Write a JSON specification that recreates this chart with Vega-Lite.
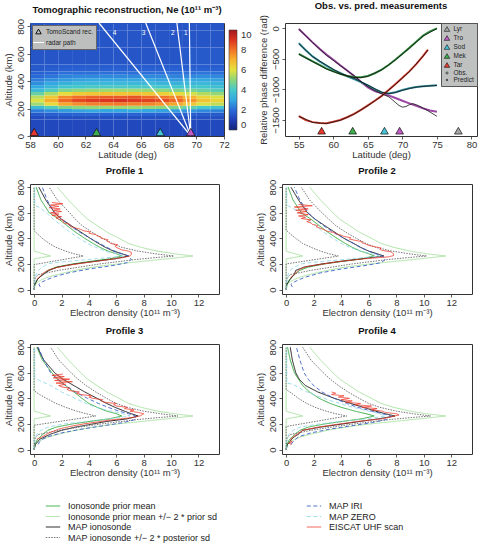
{
"$schema":"https://vega.github.io/schema/vega-lite/v6.json",
"background":"white",
"padding":{"left":2,"top":0,"right":2,"bottom":0},
"config":{
 "font":"Liberation Sans",
 "view":{"stroke":"#333","strokeWidth":1},
 "axis":{"domain":false,"grid":false,"tickSize":3,"tickColor":"#333","tickWidth":0.8,"labelFontSize":9.5,"labelColor":"#333","labelPadding":0,"labelFlush":false,"labelOverlap":false,"titleFontSize":9.5,"titleFontWeight":"normal","titleColor":"#333","titlePadding":1},
 "axisY":{"labelAngle":-90,"labelAlign":"center","labelBaseline":"bottom","labelPadding":2,"titlePadding":2},
 "title":{"fontSize":9.5,"fontWeight":"bold","offset":0,"frame":"group","color":"#111"},
 "legend":{"labelColor":"#333"}
},
"datasets":{
 "hmbg":[
  {"la":58,"h":0,"n":1.2},{"la":58,"h":525,"n":1.5},{"la":58,"h":650,"n":1.5},{"la":58,"h":775,"n":1.5},
  {"la":59,"h":0,"n":1.2},{"la":59,"h":525,"n":1.5},{"la":59,"h":650,"n":1.5},{"la":59,"h":775,"n":1.5},
  {"la":60,"h":0,"n":1.2},{"la":60,"h":525,"n":1.5},{"la":60,"h":650,"n":1.5},{"la":60,"h":775,"n":1.5},
  {"la":61,"h":0,"n":1.2},{"la":61,"h":525,"n":1.5},{"la":61,"h":650,"n":1.5},{"la":61,"h":775,"n":1.5},
  {"la":62,"h":0,"n":1.2},{"la":62,"h":525,"n":1.5},{"la":62,"h":650,"n":1.5},{"la":62,"h":775,"n":1.5},
  {"la":63,"h":0,"n":1.2},{"la":63,"h":525,"n":1.5},{"la":63,"h":650,"n":1.5},{"la":63,"h":775,"n":1.5},
  {"la":64,"h":0,"n":1.2},{"la":64,"h":525,"n":1.5},{"la":64,"h":650,"n":1.5},{"la":64,"h":775,"n":1.5},
  {"la":65,"h":0,"n":1.2},{"la":65,"h":525,"n":1.5},{"la":65,"h":650,"n":1.5},{"la":65,"h":775,"n":1.5},
  {"la":66,"h":0,"n":1.2},{"la":66,"h":525,"n":1.5},{"la":66,"h":650,"n":1.5},{"la":66,"h":775,"n":1.5},
  {"la":67,"h":0,"n":1.2},{"la":67,"h":525,"n":1.5},{"la":67,"h":650,"n":1.5},{"la":67,"h":775,"n":1.5},
  {"la":68,"h":0,"n":1.2},{"la":68,"h":525,"n":1.5},{"la":68,"h":650,"n":1.5},{"la":68,"h":775,"n":1.5},
  {"la":69,"h":0,"n":1.2},{"la":69,"h":525,"n":1.6},{"la":69,"h":650,"n":1.5},{"la":69,"h":775,"n":1.5},
  {"la":70,"h":0,"n":1.2},{"la":70,"h":525,"n":1.6},{"la":70,"h":650,"n":1.5},{"la":70,"h":775,"n":1.5},
  {"la":71,"h":0,"n":1.2},{"la":71,"h":525,"n":1.6},{"la":71,"h":650,"n":1.5},{"la":71,"h":775,"n":1.5}
 ],
 "hm":[
  {"la":58,"h":125,"n":1.3},{"la":58,"h":150,"n":1.6},{"la":58,"h":175,"n":2.3},{"la":58,"h":200,"n":3.6},{"la":58,"h":225,"n":5.2},{"la":58,"h":250,"n":5.9},{"la":58,"h":275,"n":5.5},{"la":58,"h":300,"n":4.5},{"la":58,"h":325,"n":3.6},{"la":58,"h":350,"n":3.0},{"la":58,"h":375,"n":2.6},{"la":58,"h":400,"n":2.3},{"la":58,"h":425,"n":2.0},{"la":58,"h":450,"n":1.8},{"la":58,"h":475,"n":1.6},{"la":58,"h":500,"n":1.6},
  {"la":59,"h":125,"n":1.4},{"la":59,"h":150,"n":1.7},{"la":59,"h":175,"n":2.6},{"la":59,"h":200,"n":4.2},{"la":59,"h":225,"n":6.2},{"la":59,"h":250,"n":7.1},{"la":59,"h":275,"n":6.6},{"la":59,"h":300,"n":5.4},{"la":59,"h":325,"n":4.2},{"la":59,"h":350,"n":3.4},{"la":59,"h":375,"n":3.0},{"la":59,"h":400,"n":2.6},{"la":59,"h":425,"n":2.2},{"la":59,"h":450,"n":1.9},{"la":59,"h":475,"n":1.7},{"la":59,"h":500,"n":1.6},
  {"la":60,"h":125,"n":1.4},{"la":60,"h":150,"n":1.8},{"la":60,"h":175,"n":2.8},{"la":60,"h":200,"n":4.8},{"la":60,"h":225,"n":7.2},{"la":60,"h":250,"n":8.2},{"la":60,"h":275,"n":7.7},{"la":60,"h":300,"n":6.1},{"la":60,"h":325,"n":4.8},{"la":60,"h":350,"n":3.9},{"la":60,"h":375,"n":3.3},{"la":60,"h":400,"n":2.8},{"la":60,"h":425,"n":2.4},{"la":60,"h":450,"n":2.1},{"la":60,"h":475,"n":1.8},{"la":60,"h":500,"n":1.7},
  {"la":61,"h":125,"n":1.4},{"la":61,"h":150,"n":1.8},{"la":61,"h":175,"n":2.9},{"la":61,"h":200,"n":5.0},{"la":61,"h":225,"n":7.6},{"la":61,"h":250,"n":8.7},{"la":61,"h":275,"n":8.1},{"la":61,"h":300,"n":6.5},{"la":61,"h":325,"n":5.0},{"la":61,"h":350,"n":4.0},{"la":61,"h":375,"n":3.5},{"la":61,"h":400,"n":2.9},{"la":61,"h":425,"n":2.5},{"la":61,"h":450,"n":2.1},{"la":61,"h":475,"n":1.8},{"la":61,"h":500,"n":1.7},
  {"la":62,"h":125,"n":1.4},{"la":62,"h":150,"n":1.8},{"la":62,"h":175,"n":3.0},{"la":62,"h":200,"n":5.1},{"la":62,"h":225,"n":7.8},{"la":62,"h":250,"n":8.9},{"la":62,"h":275,"n":8.3},{"la":62,"h":300,"n":6.6},{"la":62,"h":325,"n":5.1},{"la":62,"h":350,"n":4.1},{"la":62,"h":375,"n":3.5},{"la":62,"h":400,"n":3.0},{"la":62,"h":425,"n":2.5},{"la":62,"h":450,"n":2.1},{"la":62,"h":475,"n":1.8},{"la":62,"h":500,"n":1.7},
  {"la":63,"h":125,"n":1.4},{"la":63,"h":150,"n":1.8},{"la":63,"h":175,"n":3.0},{"la":63,"h":200,"n":5.2},{"la":63,"h":225,"n":7.8},{"la":63,"h":250,"n":9.0},{"la":63,"h":275,"n":8.4},{"la":63,"h":300,"n":6.7},{"la":63,"h":325,"n":5.2},{"la":63,"h":350,"n":4.1},{"la":63,"h":375,"n":3.5},{"la":63,"h":400,"n":3.0},{"la":63,"h":425,"n":2.5},{"la":63,"h":450,"n":2.1},{"la":63,"h":475,"n":1.8},{"la":63,"h":500,"n":1.7},
  {"la":64,"h":125,"n":1.4},{"la":64,"h":150,"n":1.8},{"la":64,"h":175,"n":3.0},{"la":64,"h":200,"n":5.2},{"la":64,"h":225,"n":7.9},{"la":64,"h":250,"n":9.1},{"la":64,"h":275,"n":8.4},{"la":64,"h":300,"n":6.7},{"la":64,"h":325,"n":5.2},{"la":64,"h":350,"n":4.1},{"la":64,"h":375,"n":3.5},{"la":64,"h":400,"n":3.0},{"la":64,"h":425,"n":2.5},{"la":64,"h":450,"n":2.1},{"la":64,"h":475,"n":1.8},{"la":64,"h":500,"n":1.7},
  {"la":65,"h":125,"n":1.4},{"la":65,"h":150,"n":1.8},{"la":65,"h":175,"n":3.0},{"la":65,"h":200,"n":5.2},{"la":65,"h":225,"n":7.8},{"la":65,"h":250,"n":8.9},{"la":65,"h":275,"n":8.5},{"la":65,"h":300,"n":6.7},{"la":65,"h":325,"n":5.2},{"la":65,"h":350,"n":4.1},{"la":65,"h":375,"n":3.5},{"la":65,"h":400,"n":3.0},{"la":65,"h":425,"n":2.5},{"la":65,"h":450,"n":2.1},{"la":65,"h":475,"n":1.8},{"la":65,"h":500,"n":1.7},
  {"la":66,"h":125,"n":1.4},{"la":66,"h":150,"n":1.8},{"la":66,"h":175,"n":3.0},{"la":66,"h":200,"n":5.1},{"la":66,"h":225,"n":7.7},{"la":66,"h":250,"n":8.8},{"la":66,"h":275,"n":8.2},{"la":66,"h":300,"n":6.6},{"la":66,"h":325,"n":5.1},{"la":66,"h":350,"n":4.1},{"la":66,"h":375,"n":3.5},{"la":66,"h":400,"n":3.0},{"la":66,"h":425,"n":2.5},{"la":66,"h":450,"n":2.1},{"la":66,"h":475,"n":1.8},{"la":66,"h":500,"n":1.7},
  {"la":67,"h":125,"n":1.4},{"la":67,"h":150,"n":1.8},{"la":67,"h":175,"n":2.9},{"la":67,"h":200,"n":5.0},{"la":67,"h":225,"n":7.5},{"la":67,"h":250,"n":8.6},{"la":67,"h":275,"n":8.0},{"la":67,"h":300,"n":6.4},{"la":67,"h":325,"n":5.0},{"la":67,"h":350,"n":4.0},{"la":67,"h":375,"n":3.4},{"la":67,"h":400,"n":2.9},{"la":67,"h":425,"n":2.5},{"la":67,"h":450,"n":2.1},{"la":67,"h":475,"n":1.8},{"la":67,"h":500,"n":1.7},
  {"la":68,"h":125,"n":1.4},{"la":68,"h":150,"n":1.8},{"la":68,"h":175,"n":2.8},{"la":68,"h":200,"n":4.8},{"la":68,"h":225,"n":7.2},{"la":68,"h":250,"n":8.2},{"la":68,"h":275,"n":7.7},{"la":68,"h":300,"n":6.1},{"la":68,"h":325,"n":4.8},{"la":68,"h":350,"n":3.9},{"la":68,"h":375,"n":3.3},{"la":68,"h":400,"n":2.8},{"la":68,"h":425,"n":2.4},{"la":68,"h":450,"n":2.1},{"la":68,"h":475,"n":1.8},{"la":68,"h":500,"n":1.7},
  {"la":69,"h":125,"n":1.4},{"la":69,"h":150,"n":1.7},{"la":69,"h":175,"n":2.7},{"la":69,"h":200,"n":4.4},{"la":69,"h":225,"n":6.6},{"la":69,"h":250,"n":7.5},{"la":69,"h":275,"n":7.0},{"la":69,"h":300,"n":5.8},{"la":69,"h":325,"n":4.7},{"la":69,"h":350,"n":3.9},{"la":69,"h":375,"n":3.4},{"la":69,"h":400,"n":3.0},{"la":69,"h":425,"n":2.5},{"la":69,"h":450,"n":2.1},{"la":69,"h":475,"n":1.8},{"la":69,"h":500,"n":1.7},
  {"la":70,"h":125,"n":1.4},{"la":70,"h":150,"n":1.6},{"la":70,"h":175,"n":2.5},{"la":70,"h":200,"n":4.0},{"la":70,"h":225,"n":5.9},{"la":70,"h":250,"n":6.7},{"la":70,"h":275,"n":6.3},{"la":70,"h":300,"n":5.4},{"la":70,"h":325,"n":4.5},{"la":70,"h":350,"n":3.9},{"la":70,"h":375,"n":3.5},{"la":70,"h":400,"n":3.0},{"la":70,"h":425,"n":2.6},{"la":70,"h":450,"n":2.2},{"la":70,"h":475,"n":1.8},{"la":70,"h":500,"n":1.7},
  {"la":71,"h":125,"n":1.4},{"la":71,"h":150,"n":1.6},{"la":71,"h":175,"n":2.4},{"la":71,"h":200,"n":3.8},{"la":71,"h":225,"n":5.6},{"la":71,"h":250,"n":6.3},{"la":71,"h":275,"n":5.9},{"la":71,"h":300,"n":5.1},{"la":71,"h":325,"n":4.3},{"la":71,"h":350,"n":3.7},{"la":71,"h":375,"n":3.3},{"la":71,"h":400,"n":2.9},{"la":71,"h":425,"n":2.5},{"la":71,"h":450,"n":2.1},{"la":71,"h":475,"n":1.8},{"la":71,"h":500,"n":1.7}
 ],
 "radar":[
  {"r":"1","la":69.6,"h":0},{"r":"1","la":69.5,"h":825},
  {"r":"2","la":69.6,"h":0},{"r":"2","la":68.6,"h":825},
  {"r":"3","la":69.6,"h":0},{"r":"3","la":66.35,"h":825},
  {"r":"4","la":69.6,"h":0},{"r":"4","la":62.98,"h":825}
 ],
 "rlab":[{"t":"4","la":64.1,"h":752},{"t":"3","la":66.2,"h":752},{"t":"2","la":68.3,"h":752},{"t":"1","la":69.25,"h":752}],
 "stnH":[{"s":"Tar","la":58.3,"h":29},{"s":"Mek","la":62.8,"h":29},{"s":"Sod","la":67.4,"h":29},{"s":"Tro","la":69.6,"h":29}],
 "stnP":[{"s":"Tar","la":58.3,"v":-1675},{"s":"Mek","la":62.8,"v":-1675},{"s":"Sod","la":67.4,"v":-1675},{"s":"Tro","la":69.6,"v":-1675},{"s":"Lyr","la":78.1,"v":-1675}],
 "hleg":[{"leg":"TomoScand rec."},{"leg":"radar path"}],
 "ph":[
  {"s":"Tro","la":55,"v":-10},{"s":"Tro","la":56,"v":-120},{"s":"Tro","la":57,"v":-230},{"s":"Tro","la":58,"v":-335},{"s":"Tro","la":59,"v":-430},{"s":"Tro","la":60,"v":-515},{"s":"Tro","la":61,"v":-605},{"s":"Tro","la":62,"v":-690},{"s":"Tro","la":63,"v":-780},{"s":"Tro","la":64,"v":-880},{"s":"Tro","la":65,"v":-965},{"s":"Tro","la":66,"v":-1025},{"s":"Tro","la":67,"v":-1065},{"s":"Tro","la":68,"v":-1098},{"s":"Tro","la":69,"v":-1140},{"s":"Tro","la":70,"v":-1185},{"s":"Tro","la":71,"v":-1228},{"s":"Tro","la":72,"v":-1270},{"s":"Tro","la":73,"v":-1310},{"s":"Tro","la":74,"v":-1345},{"s":"Tro","la":75,"v":-1365},
  {"s":"Sod","la":55,"v":-245},{"s":"Sod","la":56,"v":-360},{"s":"Sod","la":57,"v":-460},{"s":"Sod","la":58,"v":-540},{"s":"Sod","la":59,"v":-610},{"s":"Sod","la":60,"v":-680},{"s":"Sod","la":61,"v":-730},{"s":"Sod","la":62,"v":-785},{"s":"Sod","la":63,"v":-830},{"s":"Sod","la":64,"v":-880},{"s":"Sod","la":65,"v":-935},{"s":"Sod","la":66,"v":-995},{"s":"Sod","la":67,"v":-1050},{"s":"Sod","la":68,"v":-1065},{"s":"Sod","la":69,"v":-1045},{"s":"Sod","la":70,"v":-1010},{"s":"Sod","la":71,"v":-980},{"s":"Sod","la":72,"v":-960},{"s":"Sod","la":73,"v":-948},{"s":"Sod","la":74,"v":-940},{"s":"Sod","la":75,"v":-933},
  {"s":"Mek","la":55,"v":-420},{"s":"Mek","la":56,"v":-480},{"s":"Mek","la":57,"v":-540},{"s":"Mek","la":58,"v":-600},{"s":"Mek","la":59,"v":-660},{"s":"Mek","la":60,"v":-705},{"s":"Mek","la":61,"v":-745},{"s":"Mek","la":62,"v":-780},{"s":"Mek","la":63,"v":-798},{"s":"Mek","la":64,"v":-800},{"s":"Mek","la":65,"v":-780},{"s":"Mek","la":66,"v":-735},{"s":"Mek","la":67,"v":-675},{"s":"Mek","la":68,"v":-600},{"s":"Mek","la":69,"v":-510},{"s":"Mek","la":70,"v":-415},{"s":"Mek","la":71,"v":-320},{"s":"Mek","la":72,"v":-220},{"s":"Mek","la":73,"v":-120},{"s":"Mek","la":74,"v":-50},{"s":"Mek","la":75,"v":0},
  {"s":"Tar","la":55,"v":-1435},{"s":"Tar","la":56,"v":-1500},{"s":"Tar","la":57,"v":-1535},{"s":"Tar","la":58,"v":-1550},{"s":"Tar","la":59,"v":-1555},{"s":"Tar","la":60,"v":-1530},{"s":"Tar","la":61,"v":-1500},{"s":"Tar","la":62,"v":-1455},{"s":"Tar","la":63,"v":-1400},{"s":"Tar","la":64,"v":-1335},{"s":"Tar","la":65,"v":-1260},{"s":"Tar","la":66,"v":-1185},{"s":"Tar","la":67,"v":-1105},{"s":"Tar","la":68,"v":-1010},{"s":"Tar","la":69,"v":-910},{"s":"Tar","la":70,"v":-810},{"s":"Tar","la":71,"v":-705},{"s":"Tar","la":72,"v":-585},{"s":"Tar","la":73,"v":-450},{"s":"Tar","la":73.7,"v":-350}
 ],
 "obs":[
  {"s":"Tro","la":55,"v":-15},{"s":"Tro","la":57,"v":-235},{"s":"Tro","la":59,"v":-440},{"s":"Tro","la":61,"v":-610},{"s":"Tro","la":63,"v":-775},{"s":"Tro","la":64,"v":-870},{"s":"Tro","la":65,"v":-955},{"s":"Tro","la":66,"v":-1020},{"s":"Tro","la":67,"v":-1070},{"s":"Tro","la":68,"v":-1120},{"s":"Tro","la":68.5,"v":-1165},{"s":"Tro","la":69,"v":-1215},{"s":"Tro","la":69.5,"v":-1262},{"s":"Tro","la":70,"v":-1290},{"s":"Tro","la":70.5,"v":-1280},{"s":"Tro","la":71,"v":-1250},{"s":"Tro","la":71.5,"v":-1232},{"s":"Tro","la":72,"v":-1250},{"s":"Tro","la":72.5,"v":-1275},{"s":"Tro","la":73,"v":-1305},{"s":"Tro","la":74,"v":-1370},{"s":"Tro","la":75,"v":-1440},
  {"s":"Sod","la":55,"v":-250},{"s":"Sod","la":57,"v":-465},{"s":"Sod","la":59,"v":-605},{"s":"Sod","la":61,"v":-735},{"s":"Sod","la":63,"v":-820},{"s":"Sod","la":65,"v":-930},{"s":"Sod","la":66,"v":-990},{"s":"Sod","la":67,"v":-1045},{"s":"Sod","la":68,"v":-1070},{"s":"Sod","la":69,"v":-1050},{"s":"Sod","la":70,"v":-1015},{"s":"Sod","la":71,"v":-985},{"s":"Sod","la":72,"v":-962},{"s":"Sod","la":73,"v":-950},{"s":"Sod","la":75,"v":-935},
  {"s":"Mek","la":55,"v":-425},{"s":"Mek","la":57,"v":-545},{"s":"Mek","la":59,"v":-665},{"s":"Mek","la":61,"v":-750},{"s":"Mek","la":63,"v":-805},{"s":"Mek","la":64,"v":-808},{"s":"Mek","la":65,"v":-785},{"s":"Mek","la":67,"v":-680},{"s":"Mek","la":69,"v":-515},{"s":"Mek","la":71,"v":-325},{"s":"Mek","la":73,"v":-125},{"s":"Mek","la":75,"v":-5},
  {"s":"Tar","la":55,"v":-1440},{"s":"Tar","la":57,"v":-1540},{"s":"Tar","la":59,"v":-1560},{"s":"Tar","la":61,"v":-1505},{"s":"Tar","la":63,"v":-1405},{"s":"Tar","la":65,"v":-1265},{"s":"Tar","la":67,"v":-1110},{"s":"Tar","la":69,"v":-915},{"s":"Tar","la":71,"v":-710},{"s":"Tar","la":73,"v":-455},{"s":"Tar","la":73.7,"v":-355}
 ],
 "prior":[
  {"c":"ps","k":"u","x":0,"h":0},{"c":"ps","k":"u","x":0.1,"h":40},{"c":"ps","k":"u","x":0.3,"h":60},{"c":"ps","k":"u","x":0.6,"h":80},{"c":"ps","k":"u","x":1.1,"h":100},{"c":"ps","k":"u","x":1.8,"h":120},{"c":"ps","k":"u","x":3.0,"h":150},{"c":"ps","k":"u","x":4.3,"h":175},{"c":"ps","k":"u","x":5.3,"h":190},{"c":"ps","k":"u","x":6.8,"h":208},{"c":"ps","k":"u","x":8.8,"h":230},{"c":"ps","k":"u","x":10.6,"h":250},{"c":"ps","k":"u","x":11.6,"h":262},{"c":"ps","k":"u","x":10.2,"h":280},{"c":"ps","k":"u","x":9.0,"h":300},{"c":"ps","k":"u","x":7.8,"h":330},{"c":"ps","k":"u","x":6.9,"h":360},{"c":"ps","k":"u","x":6.2,"h":400},{"c":"ps","k":"u","x":5.3,"h":450},{"c":"ps","k":"u","x":4.6,"h":500},{"c":"ps","k":"u","x":3.9,"h":550},{"c":"ps","k":"u","x":3.4,"h":600},{"c":"ps","k":"u","x":2.5,"h":700},{"c":"ps","k":"u","x":1.7,"h":800},
  {"c":"ps","k":"l","x":0,"h":0},{"c":"ps","k":"l","x":0,"h":240},{"c":"ps","k":"l","x":1.2,"h":262},{"c":"ps","k":"l","x":0,"h":300},{"c":"ps","k":"l","x":0,"h":800}
 ],
 "prof":[
  {"p":1,"c":"pm","x":0,"h":0},{"p":1,"c":"pm","x":0.05,"h":40},{"p":1,"c":"pm","x":0.25,"h":80},{"p":1,"c":"pm","x":0.45,"h":100},{"p":1,"c":"pm","x":0.65,"h":120},{"p":1,"c":"pm","x":1.0,"h":150},{"p":1,"c":"pm","x":1.6,"h":175},{"p":1,"c":"pm","x":2.8,"h":200},{"p":1,"c":"pm","x":4.1,"h":220},{"p":1,"c":"pm","x":5.5,"h":240},{"p":1,"c":"pm","x":6.4,"h":262},{"p":1,"c":"pm","x":6.0,"h":280},{"p":1,"c":"pm","x":5.4,"h":300},{"p":1,"c":"pm","x":4.8,"h":330},{"p":1,"c":"pm","x":4.3,"h":360},{"p":1,"c":"pm","x":3.7,"h":400},{"p":1,"c":"pm","x":3.0,"h":450},{"p":1,"c":"pm","x":2.4,"h":500},{"p":1,"c":"pm","x":1.8,"h":550},{"p":1,"c":"pm","x":1.1,"h":600},{"p":1,"c":"pm","x":0.5,"h":700},{"p":1,"c":"pm","x":0.15,"h":800},
  {"p":1,"c":"mi","x":0,"h":0},{"p":1,"c":"mi","x":0.05,"h":40},{"p":1,"c":"mi","x":0.25,"h":80},{"p":1,"c":"mi","x":0.45,"h":100},{"p":1,"c":"mi","x":0.7,"h":120},{"p":1,"c":"mi","x":1.1,"h":150},{"p":1,"c":"mi","x":1.7,"h":175},{"p":1,"c":"mi","x":3.0,"h":200},{"p":1,"c":"mi","x":4.4,"h":220},{"p":1,"c":"mi","x":5.9,"h":240},{"p":1,"c":"mi","x":6.9,"h":262},{"p":1,"c":"mi","x":6.4,"h":280},{"p":1,"c":"mi","x":5.8,"h":300},{"p":1,"c":"mi","x":5.2,"h":330},{"p":1,"c":"mi","x":4.7,"h":360},{"p":1,"c":"mi","x":4.1,"h":400},{"p":1,"c":"mi","x":3.4,"h":450},{"p":1,"c":"mi","x":2.7,"h":500},{"p":1,"c":"mi","x":2.0,"h":550},{"p":1,"c":"mi","x":1.5,"h":600},{"p":1,"c":"mi","x":0.85,"h":700},{"p":1,"c":"mi","x":0.35,"h":800},
  {"p":1,"c":"ms","k":"u","x":0,"h":0},{"p":1,"c":"ms","k":"u","x":0.05,"h":80},{"p":1,"c":"ms","k":"u","x":0.15,"h":100},{"p":1,"c":"ms","k":"u","x":0.3,"h":117},{"p":1,"c":"ms","k":"u","x":1.8,"h":150},{"p":1,"c":"ms","k":"u","x":3.3,"h":175},{"p":1,"c":"ms","k":"u","x":4.8,"h":200},{"p":1,"c":"ms","k":"u","x":7.35,"h":234},{"p":1,"c":"ms","k":"u","x":8.9,"h":250},{"p":1,"c":"ms","k":"u","x":10.2,"h":262},{"p":1,"c":"ms","k":"u","x":8.8,"h":280},{"p":1,"c":"ms","k":"u","x":7.6,"h":300},{"p":1,"c":"ms","k":"u","x":6.4,"h":330},{"p":1,"c":"ms","k":"u","x":5.7,"h":360},{"p":1,"c":"ms","k":"u","x":5.0,"h":400},{"p":1,"c":"ms","k":"u","x":4.2,"h":450},{"p":1,"c":"ms","k":"u","x":3.5,"h":500},{"p":1,"c":"ms","k":"u","x":3.0,"h":550},{"p":1,"c":"ms","k":"u","x":2.6,"h":600},{"p":1,"c":"ms","k":"u","x":1.7,"h":700},{"p":1,"c":"ms","k":"u","x":1.1,"h":800},
  {"p":1,"c":"ms","k":"l","x":0,"h":0},{"p":1,"c":"ms","k":"l","x":0,"h":195},{"p":1,"c":"ms","k":"l","x":3.6,"h":262},{"p":1,"c":"ms","k":"l","x":2.9,"h":280},{"p":1,"c":"ms","k":"l","x":2.3,"h":300},{"p":1,"c":"ms","k":"l","x":1.6,"h":330},{"p":1,"c":"ms","k":"l","x":1.1,"h":360},{"p":1,"c":"ms","k":"l","x":0.6,"h":400},{"p":1,"c":"ms","k":"l","x":0.3,"h":430},{"p":1,"c":"ms","k":"l","x":0,"h":460},{"p":1,"c":"ms","k":"l","x":0,"h":800},
  {"p":1,"c":"iri","x":0.45,"h":20},{"p":1,"c":"iri","x":0.35,"h":40},{"p":1,"c":"iri","x":0.6,"h":60},{"p":1,"c":"iri","x":1.0,"h":80},{"p":1,"c":"iri","x":1.5,"h":100},{"p":1,"c":"iri","x":2.5,"h":130},{"p":1,"c":"iri","x":4.0,"h":160},{"p":1,"c":"iri","x":5.9,"h":190},{"p":1,"c":"iri","x":6.8,"h":210},{"p":1,"c":"iri","x":7.1,"h":235},{"p":1,"c":"iri","x":6.9,"h":262},{"p":1,"c":"iri","x":6.4,"h":280},{"p":1,"c":"iri","x":5.9,"h":300},{"p":1,"c":"iri","x":5.3,"h":330},{"p":1,"c":"iri","x":4.8,"h":360},{"p":1,"c":"iri","x":4.1,"h":400},{"p":1,"c":"iri","x":3.3,"h":450},{"p":1,"c":"iri","x":2.6,"h":500},{"p":1,"c":"iri","x":2.0,"h":550},{"p":1,"c":"iri","x":1.5,"h":600},{"p":1,"c":"iri","x":0.95,"h":700},{"p":1,"c":"iri","x":0.6,"h":800},
  {"p":1,"c":"zero","x":0,"h":0},{"p":1,"c":"zero","x":0.05,"h":80},{"p":1,"c":"zero","x":0.15,"h":120},{"p":1,"c":"zero","x":0.3,"h":150},{"p":1,"c":"zero","x":0.6,"h":175},{"p":1,"c":"zero","x":1.0,"h":200},{"p":1,"c":"zero","x":1.5,"h":210},{"p":1,"c":"zero","x":2.5,"h":220},{"p":1,"c":"zero","x":4.5,"h":240},{"p":1,"c":"zero","x":6.6,"h":262},{"p":1,"c":"zero","x":6.0,"h":280},{"p":1,"c":"zero","x":5.2,"h":300},{"p":1,"c":"zero","x":4.5,"h":330},{"p":1,"c":"zero","x":3.9,"h":360},{"p":1,"c":"zero","x":3.3,"h":400},{"p":1,"c":"zero","x":2.6,"h":450},{"p":1,"c":"zero","x":2.0,"h":500},{"p":1,"c":"zero","x":1.4,"h":550},{"p":1,"c":"zero","x":0.9,"h":600},{"p":1,"c":"zero","x":0.4,"h":640},{"p":1,"c":"zero","x":0.05,"h":660},{"p":1,"c":"zero","x":0.05,"h":800},
  {"p":1,"c":"eis","x":0.2,"h":80},{"p":1,"c":"eis","x":0.4,"h":100},{"p":1,"c":"eis","x":0.7,"h":130},{"p":1,"c":"eis","x":1.0,"h":150},{"p":1,"c":"eis","x":1.6,"h":170},{"p":1,"c":"eis","x":2.5,"h":190},{"p":1,"c":"eis","x":3.8,"h":210},{"p":1,"c":"eis","x":5.2,"h":230},{"p":1,"c":"eis","x":6.5,"h":250},{"p":1,"c":"eis","x":7.0,"h":262},{"p":1,"c":"eis","x":7.1,"h":275},{"p":1,"c":"eis","x":7.1,"h":290},{"p":1,"c":"eis","x":6.9,"h":300},{"p":1,"c":"eis","x":6.4,"h":310},{"p":1,"c":"eis","x":6.2,"h":320},{"p":1,"c":"eis","x":6.0,"h":330},{"p":1,"c":"eis","x":5.9,"h":340},{"p":1,"c":"eis","x":6.1,"h":350},{"p":1,"c":"eis","x":5.6,"h":360},{"p":1,"c":"eis","x":5.5,"h":370},{"p":1,"c":"eis","x":5.3,"h":380},{"p":1,"c":"eis","x":5.4,"h":390},{"p":1,"c":"eis","x":4.9,"h":400},{"p":1,"c":"eis","x":4.9,"h":410},{"p":1,"c":"eis","x":4.6,"h":420},{"p":1,"c":"eis","x":4.5,"h":430},{"p":1,"c":"eis","x":4.0,"h":440},{"p":1,"c":"eis","x":4.1,"h":450},{"p":1,"c":"eis","x":3.6,"h":460},{"p":1,"c":"eis","x":3.4,"h":470},{"p":1,"c":"eis","x":3.1,"h":480},{"p":1,"c":"eis","x":2.7,"h":490},{"p":1,"c":"eis","x":2.6,"h":500},{"p":1,"c":"eis","x":2.6,"h":510},{"p":1,"c":"eis","x":2.2,"h":520},{"p":1,"c":"eis","x":2.1,"h":530},{"p":1,"c":"eis","x":2.2,"h":540},{"p":1,"c":"eis","x":1.8,"h":550},{"p":1,"c":"eis","x":1.6,"h":560},{"p":1,"c":"eis","x":2.0,"h":570},{"p":1,"c":"eis","x":1.3,"h":580},{"p":1,"c":"eis","x":1.8,"h":590},{"p":1,"c":"eis","x":1.2,"h":600},{"p":1,"c":"eis","x":2.0,"h":610},{"p":1,"c":"eis","x":1.4,"h":620},{"p":1,"c":"eis","x":1.9,"h":630},{"p":1,"c":"eis","x":1.1,"h":640},{"p":1,"c":"eis","x":1.8,"h":650},{"p":1,"c":"eis","x":1.2,"h":660},{"p":1,"c":"eis","x":2.1,"h":670},{"p":1,"c":"eis","x":1.3,"h":680},

  {"p":2,"c":"pm","x":0,"h":0},{"p":2,"c":"pm","x":0.05,"h":40},{"p":2,"c":"pm","x":0.25,"h":80},{"p":2,"c":"pm","x":0.45,"h":100},{"p":2,"c":"pm","x":0.65,"h":120},{"p":2,"c":"pm","x":1.0,"h":150},{"p":2,"c":"pm","x":1.6,"h":175},{"p":2,"c":"pm","x":2.8,"h":200},{"p":2,"c":"pm","x":4.1,"h":220},{"p":2,"c":"pm","x":5.5,"h":240},{"p":2,"c":"pm","x":6.4,"h":262},{"p":2,"c":"pm","x":6.0,"h":280},{"p":2,"c":"pm","x":5.4,"h":300},{"p":2,"c":"pm","x":4.8,"h":330},{"p":2,"c":"pm","x":4.3,"h":360},{"p":2,"c":"pm","x":3.7,"h":400},{"p":2,"c":"pm","x":3.0,"h":450},{"p":2,"c":"pm","x":2.4,"h":500},{"p":2,"c":"pm","x":1.8,"h":550},{"p":2,"c":"pm","x":1.1,"h":600},{"p":2,"c":"pm","x":0.5,"h":700},{"p":2,"c":"pm","x":0.15,"h":800},
  {"p":2,"c":"mi","x":0,"h":0},{"p":2,"c":"mi","x":0.05,"h":40},{"p":2,"c":"mi","x":0.3,"h":80},{"p":2,"c":"mi","x":0.45,"h":100},{"p":2,"c":"mi","x":0.6,"h":120},{"p":2,"c":"mi","x":0.7,"h":150},{"p":2,"c":"mi","x":1.3,"h":175},{"p":2,"c":"mi","x":2.6,"h":200},{"p":2,"c":"mi","x":3.9,"h":220},{"p":2,"c":"mi","x":5.5,"h":240},{"p":2,"c":"mi","x":7.1,"h":262},{"p":2,"c":"mi","x":6.6,"h":280},{"p":2,"c":"mi","x":6.0,"h":300},{"p":2,"c":"mi","x":5.4,"h":330},{"p":2,"c":"mi","x":4.9,"h":360},{"p":2,"c":"mi","x":4.2,"h":400},{"p":2,"c":"mi","x":3.5,"h":450},{"p":2,"c":"mi","x":2.8,"h":500},{"p":2,"c":"mi","x":2.1,"h":550},{"p":2,"c":"mi","x":1.55,"h":600},{"p":2,"c":"mi","x":0.9,"h":700},{"p":2,"c":"mi","x":0.35,"h":800},
  {"p":2,"c":"ms","k":"u","x":0,"h":0},{"p":2,"c":"ms","k":"u","x":0.05,"h":80},{"p":2,"c":"ms","k":"u","x":0.15,"h":100},{"p":2,"c":"ms","k":"u","x":0.3,"h":117},{"p":2,"c":"ms","k":"u","x":1.8,"h":150},{"p":2,"c":"ms","k":"u","x":3.3,"h":175},{"p":2,"c":"ms","k":"u","x":4.8,"h":200},{"p":2,"c":"ms","k":"u","x":7.35,"h":234},{"p":2,"c":"ms","k":"u","x":8.9,"h":250},{"p":2,"c":"ms","k":"u","x":10.2,"h":262},{"p":2,"c":"ms","k":"u","x":8.9,"h":280},{"p":2,"c":"ms","k":"u","x":7.7,"h":300},{"p":2,"c":"ms","k":"u","x":6.5,"h":330},{"p":2,"c":"ms","k":"u","x":5.8,"h":360},{"p":2,"c":"ms","k":"u","x":5.1,"h":400},{"p":2,"c":"ms","k":"u","x":4.3,"h":450},{"p":2,"c":"ms","k":"u","x":3.6,"h":500},{"p":2,"c":"ms","k":"u","x":3.1,"h":550},{"p":2,"c":"ms","k":"u","x":2.6,"h":600},{"p":2,"c":"ms","k":"u","x":1.7,"h":700},{"p":2,"c":"ms","k":"u","x":1.1,"h":800},
  {"p":2,"c":"ms","k":"l","x":0,"h":0},{"p":2,"c":"ms","k":"l","x":0,"h":200},{"p":2,"c":"ms","k":"l","x":3.8,"h":262},{"p":2,"c":"ms","k":"l","x":3.1,"h":280},{"p":2,"c":"ms","k":"l","x":2.5,"h":300},{"p":2,"c":"ms","k":"l","x":1.8,"h":330},{"p":2,"c":"ms","k":"l","x":1.2,"h":360},{"p":2,"c":"ms","k":"l","x":0.7,"h":400},{"p":2,"c":"ms","k":"l","x":0.35,"h":430},{"p":2,"c":"ms","k":"l","x":0,"h":465},{"p":2,"c":"ms","k":"l","x":0,"h":800},
  {"p":2,"c":"iri","x":0.45,"h":20},{"p":2,"c":"iri","x":0.35,"h":40},{"p":2,"c":"iri","x":0.6,"h":60},{"p":2,"c":"iri","x":1.0,"h":80},{"p":2,"c":"iri","x":1.5,"h":100},{"p":2,"c":"iri","x":2.5,"h":130},{"p":2,"c":"iri","x":4.0,"h":160},{"p":2,"c":"iri","x":5.9,"h":190},{"p":2,"c":"iri","x":6.9,"h":210},{"p":2,"c":"iri","x":7.2,"h":235},{"p":2,"c":"iri","x":7.0,"h":262},{"p":2,"c":"iri","x":6.5,"h":280},{"p":2,"c":"iri","x":6.0,"h":300},{"p":2,"c":"iri","x":5.4,"h":330},{"p":2,"c":"iri","x":4.9,"h":360},{"p":2,"c":"iri","x":4.2,"h":400},{"p":2,"c":"iri","x":3.4,"h":450},{"p":2,"c":"iri","x":2.7,"h":500},{"p":2,"c":"iri","x":2.1,"h":550},{"p":2,"c":"iri","x":1.6,"h":600},{"p":2,"c":"iri","x":1.0,"h":700},{"p":2,"c":"iri","x":0.6,"h":800},
  {"p":2,"c":"zero","x":0,"h":0},{"p":2,"c":"zero","x":0.05,"h":80},{"p":2,"c":"zero","x":0.15,"h":120},{"p":2,"c":"zero","x":0.3,"h":150},{"p":2,"c":"zero","x":0.6,"h":175},{"p":2,"c":"zero","x":1.1,"h":200},{"p":2,"c":"zero","x":1.7,"h":210},{"p":2,"c":"zero","x":2.7,"h":220},{"p":2,"c":"zero","x":4.7,"h":240},{"p":2,"c":"zero","x":6.8,"h":262},{"p":2,"c":"zero","x":6.2,"h":280},{"p":2,"c":"zero","x":5.4,"h":300},{"p":2,"c":"zero","x":4.6,"h":330},{"p":2,"c":"zero","x":4.0,"h":360},{"p":2,"c":"zero","x":3.4,"h":400},{"p":2,"c":"zero","x":2.7,"h":450},{"p":2,"c":"zero","x":2.1,"h":500},{"p":2,"c":"zero","x":1.5,"h":550},{"p":2,"c":"zero","x":1.0,"h":600},{"p":2,"c":"zero","x":0.4,"h":640},{"p":2,"c":"zero","x":0.05,"h":660},{"p":2,"c":"zero","x":0.05,"h":800},
  {"p":2,"c":"eis","x":0.3,"h":90},{"p":2,"c":"eis","x":0.5,"h":110},{"p":2,"c":"eis","x":0.8,"h":140},{"p":2,"c":"eis","x":1.0,"h":160},{"p":2,"c":"eis","x":1.5,"h":180},{"p":2,"c":"eis","x":2.7,"h":200},{"p":2,"c":"eis","x":4.0,"h":220},{"p":2,"c":"eis","x":5.6,"h":240},{"p":2,"c":"eis","x":7.4,"h":255},{"p":2,"c":"eis","x":7.8,"h":265},{"p":2,"c":"eis","x":7.8,"h":280},{"p":2,"c":"eis","x":7.6,"h":295},{"p":2,"c":"eis","x":7.0,"h":305},{"p":2,"c":"eis","x":6.8,"h":315},{"p":2,"c":"eis","x":6.9,"h":325},{"p":2,"c":"eis","x":6.4,"h":335},{"p":2,"c":"eis","x":6.0,"h":345},{"p":2,"c":"eis","x":5.8,"h":355},{"p":2,"c":"eis","x":5.5,"h":365},{"p":2,"c":"eis","x":5.5,"h":375},{"p":2,"c":"eis","x":5.0,"h":385},{"p":2,"c":"eis","x":4.6,"h":395},{"p":2,"c":"eis","x":4.7,"h":405},{"p":2,"c":"eis","x":4.2,"h":415},{"p":2,"c":"eis","x":4.0,"h":425},{"p":2,"c":"eis","x":3.6,"h":435},{"p":2,"c":"eis","x":3.5,"h":445},{"p":2,"c":"eis","x":3.0,"h":455},{"p":2,"c":"eis","x":2.8,"h":465},{"p":2,"c":"eis","x":2.6,"h":475},{"p":2,"c":"eis","x":2.2,"h":490},{"p":2,"c":"eis","x":2.3,"h":500},{"p":2,"c":"eis","x":1.9,"h":510},{"p":2,"c":"eis","x":1.8,"h":520},{"p":2,"c":"eis","x":1.5,"h":530},{"p":2,"c":"eis","x":1.8,"h":545},{"p":2,"c":"eis","x":1.1,"h":555},{"p":2,"c":"eis","x":1.4,"h":565},{"p":2,"c":"eis","x":0.9,"h":575},{"p":2,"c":"eis","x":1.6,"h":585},{"p":2,"c":"eis","x":0.8,"h":600},{"p":2,"c":"eis","x":1.5,"h":610},{"p":2,"c":"eis","x":0.7,"h":620},{"p":2,"c":"eis","x":1.6,"h":630},{"p":2,"c":"eis","x":0.6,"h":645},{"p":2,"c":"eis","x":1.9,"h":655},{"p":2,"c":"eis","x":0.9,"h":665},

  {"p":3,"c":"pm","x":0,"h":0},{"p":3,"c":"pm","x":0.05,"h":40},{"p":3,"c":"pm","x":0.25,"h":80},{"p":3,"c":"pm","x":0.45,"h":100},{"p":3,"c":"pm","x":0.65,"h":120},{"p":3,"c":"pm","x":1.0,"h":150},{"p":3,"c":"pm","x":1.6,"h":175},{"p":3,"c":"pm","x":2.8,"h":200},{"p":3,"c":"pm","x":4.1,"h":220},{"p":3,"c":"pm","x":5.5,"h":240},{"p":3,"c":"pm","x":6.4,"h":262},{"p":3,"c":"pm","x":6.0,"h":280},{"p":3,"c":"pm","x":5.3,"h":300},{"p":3,"c":"pm","x":4.6,"h":330},{"p":3,"c":"pm","x":4.0,"h":360},{"p":3,"c":"pm","x":3.5,"h":400},{"p":3,"c":"pm","x":2.9,"h":450},{"p":3,"c":"pm","x":2.3,"h":500},{"p":3,"c":"pm","x":1.7,"h":550},{"p":3,"c":"pm","x":1.3,"h":600},{"p":3,"c":"pm","x":0.6,"h":700},{"p":3,"c":"pm","x":0.2,"h":800},
  {"p":3,"c":"mi","x":0,"h":0},{"p":3,"c":"mi","x":0.1,"h":40},{"p":3,"c":"mi","x":0.4,"h":80},{"p":3,"c":"mi","x":0.8,"h":100},{"p":3,"c":"mi","x":1.2,"h":120},{"p":3,"c":"mi","x":2.0,"h":150},{"p":3,"c":"mi","x":3.0,"h":175},{"p":3,"c":"mi","x":4.3,"h":200},{"p":3,"c":"mi","x":5.3,"h":220},{"p":3,"c":"mi","x":6.8,"h":240},{"p":3,"c":"mi","x":7.6,"h":262},{"p":3,"c":"mi","x":7.1,"h":280},{"p":3,"c":"mi","x":6.6,"h":300},{"p":3,"c":"mi","x":5.9,"h":330},{"p":3,"c":"mi","x":5.3,"h":360},{"p":3,"c":"mi","x":4.6,"h":400},{"p":3,"c":"mi","x":3.7,"h":450},{"p":3,"c":"mi","x":2.9,"h":500},{"p":3,"c":"mi","x":2.1,"h":550},{"p":3,"c":"mi","x":1.5,"h":600},{"p":3,"c":"mi","x":0.7,"h":700},{"p":3,"c":"mi","x":0.25,"h":800},
  {"p":3,"c":"ms","k":"u","x":0,"h":0},{"p":3,"c":"ms","k":"u","x":0.05,"h":80},{"p":3,"c":"ms","k":"u","x":0.15,"h":100},{"p":3,"c":"ms","k":"u","x":0.3,"h":117},{"p":3,"c":"ms","k":"u","x":1.8,"h":150},{"p":3,"c":"ms","k":"u","x":3.3,"h":175},{"p":3,"c":"ms","k":"u","x":4.9,"h":200},{"p":3,"c":"ms","k":"u","x":7.5,"h":234},{"p":3,"c":"ms","k":"u","x":9.1,"h":250},{"p":3,"c":"ms","k":"u","x":10.5,"h":262},{"p":3,"c":"ms","k":"u","x":9.2,"h":280},{"p":3,"c":"ms","k":"u","x":8.0,"h":300},{"p":3,"c":"ms","k":"u","x":6.8,"h":330},{"p":3,"c":"ms","k":"u","x":6.0,"h":360},{"p":3,"c":"ms","k":"u","x":5.3,"h":400},{"p":3,"c":"ms","k":"u","x":4.5,"h":450},{"p":3,"c":"ms","k":"u","x":3.8,"h":500},{"p":3,"c":"ms","k":"u","x":3.2,"h":550},{"p":3,"c":"ms","k":"u","x":2.7,"h":600},{"p":3,"c":"ms","k":"u","x":1.8,"h":700},{"p":3,"c":"ms","k":"u","x":1.2,"h":800},
  {"p":3,"c":"ms","k":"l","x":0,"h":0},{"p":3,"c":"ms","k":"l","x":0,"h":190},{"p":3,"c":"ms","k":"l","x":4.5,"h":262},{"p":3,"c":"ms","k":"l","x":3.8,"h":280},{"p":3,"c":"ms","k":"l","x":3.1,"h":300},{"p":3,"c":"ms","k":"l","x":2.3,"h":330},{"p":3,"c":"ms","k":"l","x":1.6,"h":360},{"p":3,"c":"ms","k":"l","x":0.9,"h":400},{"p":3,"c":"ms","k":"l","x":0.4,"h":430},{"p":3,"c":"ms","k":"l","x":0,"h":460},{"p":3,"c":"ms","k":"l","x":0,"h":800},
  {"p":3,"c":"iri","x":0.3,"h":40},{"p":3,"c":"iri","x":0.4,"h":60},{"p":3,"c":"iri","x":0.6,"h":80},{"p":3,"c":"iri","x":1.0,"h":100},{"p":3,"c":"iri","x":2.0,"h":130},{"p":3,"c":"iri","x":3.5,"h":160},{"p":3,"c":"iri","x":5.3,"h":190},{"p":3,"c":"iri","x":6.5,"h":210},{"p":3,"c":"iri","x":7.4,"h":235},{"p":3,"c":"iri","x":7.4,"h":262},{"p":3,"c":"iri","x":6.9,"h":280},{"p":3,"c":"iri","x":6.2,"h":300},{"p":3,"c":"iri","x":5.4,"h":330},{"p":3,"c":"iri","x":4.7,"h":360},{"p":3,"c":"iri","x":3.9,"h":400},{"p":3,"c":"iri","x":3.0,"h":450},{"p":3,"c":"iri","x":2.3,"h":500},{"p":3,"c":"iri","x":1.7,"h":550},{"p":3,"c":"iri","x":1.2,"h":600},{"p":3,"c":"iri","x":0.7,"h":700},{"p":3,"c":"iri","x":0.3,"h":800},
  {"p":3,"c":"zero","x":0,"h":0},{"p":3,"c":"zero","x":0.05,"h":80},{"p":3,"c":"zero","x":0.2,"h":120},{"p":3,"c":"zero","x":0.5,"h":150},{"p":3,"c":"zero","x":1.0,"h":175},{"p":3,"c":"zero","x":2.2,"h":200},{"p":3,"c":"zero","x":3.8,"h":220},{"p":3,"c":"zero","x":5.5,"h":240},{"p":3,"c":"zero","x":7.0,"h":262},{"p":3,"c":"zero","x":6.5,"h":280},{"p":3,"c":"zero","x":5.6,"h":300},{"p":3,"c":"zero","x":4.5,"h":330},{"p":3,"c":"zero","x":3.8,"h":360},{"p":3,"c":"zero","x":3.0,"h":400},{"p":3,"c":"zero","x":2.0,"h":450},{"p":3,"c":"zero","x":1.2,"h":500},{"p":3,"c":"zero","x":0.4,"h":540},{"p":3,"c":"zero","x":0.05,"h":560},{"p":3,"c":"zero","x":0.05,"h":800},
  {"p":3,"c":"eis","x":0.2,"h":80},{"p":3,"c":"eis","x":0.6,"h":100},{"p":3,"c":"eis","x":1.1,"h":130},{"p":3,"c":"eis","x":1.8,"h":160},{"p":3,"c":"eis","x":2.6,"h":180},{"p":3,"c":"eis","x":3.6,"h":200},{"p":3,"c":"eis","x":4.6,"h":215},{"p":3,"c":"eis","x":5.5,"h":230},{"p":3,"c":"eis","x":7.2,"h":250},{"p":3,"c":"eis","x":7.8,"h":265},{"p":3,"c":"eis","x":8.0,"h":280},{"p":3,"c":"eis","x":7.6,"h":290},{"p":3,"c":"eis","x":7.0,"h":300},{"p":3,"c":"eis","x":7.3,"h":310},{"p":3,"c":"eis","x":6.6,"h":320},{"p":3,"c":"eis","x":6.8,"h":330},{"p":3,"c":"eis","x":6.0,"h":340},{"p":3,"c":"eis","x":5.8,"h":350},{"p":3,"c":"eis","x":6.0,"h":360},{"p":3,"c":"eis","x":5.1,"h":370},{"p":3,"c":"eis","x":4.9,"h":380},{"p":3,"c":"eis","x":5.0,"h":390},{"p":3,"c":"eis","x":4.3,"h":400},{"p":3,"c":"eis","x":4.0,"h":410},{"p":3,"c":"eis","x":4.2,"h":420},{"p":3,"c":"eis","x":3.4,"h":430},{"p":3,"c":"eis","x":3.1,"h":440},{"p":3,"c":"eis","x":3.3,"h":450},{"p":3,"c":"eis","x":2.6,"h":460},{"p":3,"c":"eis","x":2.4,"h":470},{"p":3,"c":"eis","x":2.6,"h":480},{"p":3,"c":"eis","x":2.0,"h":490},{"p":3,"c":"eis","x":1.8,"h":500},{"p":3,"c":"eis","x":2.3,"h":510},{"p":3,"c":"eis","x":1.6,"h":520},{"p":3,"c":"eis","x":2.8,"h":530},{"p":3,"c":"eis","x":1.5,"h":540},{"p":3,"c":"eis","x":2.6,"h":550},{"p":3,"c":"eis","x":1.4,"h":560},{"p":3,"c":"eis","x":2.2,"h":570},{"p":3,"c":"eis","x":1.3,"h":580},{"p":3,"c":"eis","x":2.1,"h":590},

  {"p":4,"c":"pm","x":0,"h":0},{"p":4,"c":"pm","x":0.05,"h":40},{"p":4,"c":"pm","x":0.25,"h":80},{"p":4,"c":"pm","x":0.45,"h":100},{"p":4,"c":"pm","x":0.65,"h":120},{"p":4,"c":"pm","x":1.0,"h":150},{"p":4,"c":"pm","x":1.6,"h":175},{"p":4,"c":"pm","x":2.8,"h":200},{"p":4,"c":"pm","x":4.1,"h":220},{"p":4,"c":"pm","x":5.5,"h":240},{"p":4,"c":"pm","x":6.4,"h":262},{"p":4,"c":"pm","x":5.8,"h":280},{"p":4,"c":"pm","x":5.0,"h":300},{"p":4,"c":"pm","x":4.0,"h":330},{"p":4,"c":"pm","x":3.2,"h":360},{"p":4,"c":"pm","x":2.4,"h":400},{"p":4,"c":"pm","x":1.7,"h":450},{"p":4,"c":"pm","x":1.2,"h":500},{"p":4,"c":"pm","x":0.9,"h":550},{"p":4,"c":"pm","x":0.6,"h":600},{"p":4,"c":"pm","x":0.3,"h":700},{"p":4,"c":"pm","x":0.1,"h":800},
  {"p":4,"c":"mi","x":0,"h":0},{"p":4,"c":"mi","x":0.1,"h":40},{"p":4,"c":"mi","x":0.4,"h":80},{"p":4,"c":"mi","x":0.6,"h":100},{"p":4,"c":"mi","x":0.9,"h":120},{"p":4,"c":"mi","x":1.2,"h":150},{"p":4,"c":"mi","x":2.5,"h":175},{"p":4,"c":"mi","x":4.1,"h":200},{"p":4,"c":"mi","x":5.4,"h":220},{"p":4,"c":"mi","x":6.7,"h":240},{"p":4,"c":"mi","x":7.9,"h":262},{"p":4,"c":"mi","x":7.2,"h":280},{"p":4,"c":"mi","x":6.5,"h":300},{"p":4,"c":"mi","x":5.6,"h":330},{"p":4,"c":"mi","x":4.7,"h":360},{"p":4,"c":"mi","x":3.5,"h":400},{"p":4,"c":"mi","x":2.3,"h":450},{"p":4,"c":"mi","x":1.4,"h":500},{"p":4,"c":"mi","x":0.95,"h":550},{"p":4,"c":"mi","x":0.7,"h":600},{"p":4,"c":"mi","x":0.45,"h":700},{"p":4,"c":"mi","x":0.3,"h":800},
  {"p":4,"c":"ms","k":"u","x":0,"h":0},{"p":4,"c":"ms","k":"u","x":0.05,"h":80},{"p":4,"c":"ms","k":"u","x":0.15,"h":100},{"p":4,"c":"ms","k":"u","x":0.3,"h":117},{"p":4,"c":"ms","k":"u","x":1.8,"h":150},{"p":4,"c":"ms","k":"u","x":3.3,"h":175},{"p":4,"c":"ms","k":"u","x":4.9,"h":200},{"p":4,"c":"ms","k":"u","x":7.5,"h":234},{"p":4,"c":"ms","k":"u","x":9.1,"h":250},{"p":4,"c":"ms","k":"u","x":10.5,"h":262},{"p":4,"c":"ms","k":"u","x":9.2,"h":280},{"p":4,"c":"ms","k":"u","x":8.0,"h":300},{"p":4,"c":"ms","k":"u","x":6.8,"h":330},{"p":4,"c":"ms","k":"u","x":6.0,"h":360},{"p":4,"c":"ms","k":"u","x":5.3,"h":400},{"p":4,"c":"ms","k":"u","x":4.5,"h":450},{"p":4,"c":"ms","k":"u","x":3.8,"h":500},{"p":4,"c":"ms","k":"u","x":3.2,"h":550},{"p":4,"c":"ms","k":"u","x":2.7,"h":600},{"p":4,"c":"ms","k":"u","x":1.8,"h":700},{"p":4,"c":"ms","k":"u","x":1.2,"h":800},
  {"p":4,"c":"ms","k":"l","x":0,"h":0},{"p":4,"c":"ms","k":"l","x":0,"h":180},{"p":4,"c":"ms","k":"l","x":4.4,"h":262},{"p":4,"c":"ms","k":"l","x":3.6,"h":280},{"p":4,"c":"ms","k":"l","x":2.9,"h":300},{"p":4,"c":"ms","k":"l","x":2.1,"h":330},{"p":4,"c":"ms","k":"l","x":1.5,"h":360},{"p":4,"c":"ms","k":"l","x":0.9,"h":400},{"p":4,"c":"ms","k":"l","x":0.4,"h":440},{"p":4,"c":"ms","k":"l","x":0,"h":470},{"p":4,"c":"ms","k":"l","x":0,"h":800},
  {"p":4,"c":"iri","x":0.35,"h":40},{"p":4,"c":"iri","x":0.5,"h":60},{"p":4,"c":"iri","x":0.7,"h":80},{"p":4,"c":"iri","x":0.9,"h":100},{"p":4,"c":"iri","x":1.8,"h":130},{"p":4,"c":"iri","x":3.2,"h":160},{"p":4,"c":"iri","x":5.0,"h":190},{"p":4,"c":"iri","x":6.2,"h":210},{"p":4,"c":"iri","x":7.3,"h":235},{"p":4,"c":"iri","x":7.6,"h":262},{"p":4,"c":"iri","x":7.0,"h":280},{"p":4,"c":"iri","x":6.2,"h":300},{"p":4,"c":"iri","x":5.2,"h":330},{"p":4,"c":"iri","x":4.4,"h":360},{"p":4,"c":"iri","x":3.5,"h":400},{"p":4,"c":"iri","x":2.6,"h":450},{"p":4,"c":"iri","x":2.0,"h":500},{"p":4,"c":"iri","x":1.6,"h":550},{"p":4,"c":"iri","x":1.3,"h":600},{"p":4,"c":"iri","x":1.0,"h":700},{"p":4,"c":"iri","x":0.75,"h":800},
  {"p":4,"c":"zero","x":0,"h":0},{"p":4,"c":"zero","x":0.05,"h":80},{"p":4,"c":"zero","x":0.2,"h":120},{"p":4,"c":"zero","x":0.5,"h":150},{"p":4,"c":"zero","x":1.0,"h":175},{"p":4,"c":"zero","x":2.4,"h":200},{"p":4,"c":"zero","x":4.0,"h":220},{"p":4,"c":"zero","x":5.8,"h":240},{"p":4,"c":"zero","x":7.2,"h":262},{"p":4,"c":"zero","x":6.8,"h":280},{"p":4,"c":"zero","x":6.0,"h":300},{"p":4,"c":"zero","x":4.5,"h":340},{"p":4,"c":"zero","x":3.3,"h":380},{"p":4,"c":"zero","x":2.2,"h":420},{"p":4,"c":"zero","x":1.3,"h":460},{"p":4,"c":"zero","x":0.5,"h":510},{"p":4,"c":"zero","x":0.05,"h":520},{"p":4,"c":"zero","x":0.05,"h":800},
  {"p":4,"c":"eis","x":0.4,"h":40},{"p":4,"c":"eis","x":0.2,"h":50},{"p":4,"c":"eis","x":0.45,"h":60},{"p":4,"c":"eis","x":0.3,"h":70},{"p":4,"c":"eis","x":0.4,"h":90},{"p":4,"c":"eis","x":0.8,"h":120},{"p":4,"c":"eis","x":1.2,"h":150},{"p":4,"c":"eis","x":2.3,"h":175},{"p":4,"c":"eis","x":3.9,"h":200},{"p":4,"c":"eis","x":5.2,"h":220},{"p":4,"c":"eis","x":7.0,"h":240},{"p":4,"c":"eis","x":7.6,"h":255},{"p":4,"c":"eis","x":8.2,"h":270},{"p":4,"c":"eis","x":8.0,"h":280},{"p":4,"c":"eis","x":7.2,"h":290},{"p":4,"c":"eis","x":7.0,"h":300},{"p":4,"c":"eis","x":6.2,"h":310},{"p":4,"c":"eis","x":6.6,"h":320},{"p":4,"c":"eis","x":5.5,"h":330},{"p":4,"c":"eis","x":6.2,"h":340},{"p":4,"c":"eis","x":5.0,"h":350},{"p":4,"c":"eis","x":5.4,"h":360},{"p":4,"c":"eis","x":4.3,"h":370},{"p":4,"c":"eis","x":4.8,"h":380},{"p":4,"c":"eis","x":4.0,"h":390},{"p":4,"c":"eis","x":4.6,"h":400},{"p":4,"c":"eis","x":3.8,"h":410},{"p":4,"c":"eis","x":4.2,"h":420},{"p":4,"c":"eis","x":3.3,"h":430},{"p":4,"c":"eis","x":3.6,"h":440},{"p":4,"c":"eis","x":3.3,"h":450}
 ]
},
"resolve":{"scale":{"color":"independent","fill":"independent","shape":"independent","stroke":"independent","strokeDash":"independent","strokeWidth":"independent"}},
"spacing":5,
"vconcat":[
 {
  "spacing":4,
  "resolve":{"scale":{"color":"independent","fill":"independent","shape":"independent","stroke":"independent"}},
  "hconcat":[
   {
    "width":194,"height":113,
    "title":{"text":"Tomographic reconstruction, Ne (10¹¹ m⁻³)"},
    "encoding":{
     "x":{"field":"la","type":"quantitative","scale":{"domain":[58,72],"nice":false,"zero":false},"axis":{"values":[58,60,62,64,66,68,70,72],"title":"Latitude (deg)"}},
     "y":{"field":"h","type":"quantitative","scale":{"domain":[0,825],"nice":false,"zero":false},"axis":{"values":[0,200,400,600,800],"title":"Altitude (km)"}}
    },
    "layer":[
     {"data":{"name":"hmbg"},"mark":{"type":"rect","clip":true},
      "encoding":{
       "x":{"field":"la","type":"quantitative","bin":{"binned":true,"step":1},"scale":{"domain":[58,72],"nice":false,"zero":false},"axis":{"values":[58,60,62,64,66,68,70,72],"title":"Latitude (deg)"}},
       "y":{"field":"h","type":"quantitative","bin":{"binned":true,"step":125},"scale":{"domain":[0,825],"nice":false,"zero":false},"axis":{"values":[0,200,400,600,800],"title":"Altitude (km)"}},
       "color":{"field":"n","type":"quantitative","scale":{"domain":[0,1,2,3,4,5,6,7,8,9,10],"range":["#14237a","#1f3fb5","#2a6ad8","#34a8e0","#45c8cc","#8cd67c","#e4e23e","#f6b42e","#f27426","#dc3420","#a3151b"],"interpolate":"rgb"},
        "legend":{"orient":"none","legendX":199,"legendY":7,"direction":"vertical","title":null,"gradientLength":100,"gradientThickness":8,"values":[0,2,4,6,8,10],"labelFontSize":9.5,"labelOffset":4,"padding":0,"gradientStrokeColor":"#444","gradientStrokeWidth":0.6,"labelOverlap":false}}
      }},
     {"data":{"name":"hm"},"mark":{"type":"rect","clip":true},
      "encoding":{
       "x":{"field":"la","type":"quantitative","bin":{"binned":true,"step":1},"scale":{"domain":[58,72],"nice":false,"zero":false},"axis":{"values":[58,60,62,64,66,68,70,72],"title":"Latitude (deg)"}},
       "y":{"field":"h","type":"quantitative","bin":{"binned":true,"step":25},"scale":{"domain":[0,825],"nice":false,"zero":false},"axis":{"values":[0,200,400,600,800],"title":"Altitude (km)"}},
       "color":{"field":"n","type":"quantitative","scale":{"domain":[0,1,2,3,4,5,6,7,8,9,10],"range":["#14237a","#1f3fb5","#2a6ad8","#34a8e0","#45c8cc","#8cd67c","#e4e23e","#f6b42e","#f27426","#dc3420","#a3151b"],"interpolate":"rgb"},
        "legend":{"orient":"none","legendX":199,"legendY":7,"direction":"vertical","title":null,"gradientLength":100,"gradientThickness":8,"values":[0,2,4,6,8,10],"labelFontSize":9.5,"labelOffset":4,"padding":0,"gradientStrokeColor":"#444","gradientStrokeWidth":0.6,"labelOverlap":false}}
      }},
     {"data":{"name":"radar"},"mark":{"type":"line","color":"white","strokeWidth":1.2,"clip":true},
      "encoding":{"detail":{"field":"r","type":"nominal"}}},
     {"data":{"name":"rlab"},"mark":{"type":"text","color":"white","fontSize":6.5},
      "encoding":{"text":{"field":"t","type":"nominal"}}},
     {"data":{"name":"stnH"},
      "mark":{"type":"point","shape":"triangle-up","filled":true,"size":70,"stroke":"#111","strokeWidth":0.7,"opacity":1},
      "encoding":{"fill":{"field":"s","type":"nominal","scale":{"domain":["Tar","Mek","Sod","Tro"],"range":["#e8372c","#3fae4d","#46c6d6","#c45cc8"]},"legend":null}}},
     {"data":{"name":"hleg"},"mark":{"type":"point","filled":false,"strokeWidth":1,"opacity":1},
      "encoding":{
       "shape":{"field":"leg","type":"nominal","scale":{"domain":["TomoScand rec.","radar path"],"range":["triangle-up","M-2,0H2"]},
        "legend":{"orient":"top-left","offset":2,"title":null,"fillColor":"#bdbfbf","strokeColor":"#666","padding":3,"labelFontSize":6.5,"labelColor":"#222","rowPadding":3,"labelOffset":4,"symbolSize":30,"symbolStrokeWidth":1}},
       "stroke":{"field":"leg","type":"nominal","scale":{"domain":["TomoScand rec.","radar path"],"range":["#111111","#ffffff"]}}
      }}
    ]
   },
   {
    "width":192,"height":113,
    "title":{"text":"Obs. vs. pred. measurements"},
    "encoding":{
     "x":{"field":"la","type":"quantitative","scale":{"domain":[53,80.8],"nice":false,"zero":false},"axis":{"values":[55,60,65,70,75,80],"title":"Latitude (deg)"}},
     "y":{"field":"v","type":"quantitative","scale":{"domain":[-1762,87],"nice":false,"zero":false},"axis":{"values":[0,-500,-1000,-1500],"format":"d","title":"Relative phase difference (rad)"}}
    },
    "layer":[
     {"data":{"name":"ph"},"mark":{"type":"line","strokeWidth":2},
      "encoding":{"color":{"field":"s","type":"nominal","scale":{"domain":["Tro","Sod","Mek","Tar"],"range":["#9c47a3","#2f8f9e","#2f8a3c","#d23a2c"]},"legend":null}}},
     {"data":{"name":"obs"},"mark":{"type":"line","strokeWidth":0.8,"color":"#111"},
      "encoding":{"detail":{"field":"s","type":"nominal"}}},
     {"data":{"name":"stnP"},"mark":{"type":"point","filled":true,"size":60,"stroke":"#111","strokeWidth":0.7,"opacity":1},
      "encoding":{
       "shape":{"field":"s","type":"nominal","scale":{"domain":["Lyr","Tro","Sod","Mek","Tar","Obs.","Predict"],"range":["triangle-up","triangle-up","triangle-up","triangle-up","triangle-up","M-0.6,0H0.6M0,-0.6V0.6","M-0.2,-0.2H0.2V0.2H-0.2Z"]}},
       "fill":{"field":"s","type":"nominal","scale":{"domain":["Lyr","Tro","Sod","Mek","Tar","Obs.","Predict"],"range":["#a8a8a8","#c45cc8","#46c6d6","#3fae4d","#e8372c","#111111","#111111"]},
        "legend":{"orient":"top-right","offset":0,"title":null,"fillColor":"#bfc1c1","strokeColor":"#555","padding":2.5,"labelFontSize":6.5,"labelColor":"#222","rowPadding":0,"labelOffset":3,"symbolSize":30,"symbolStrokeColor":"#111","symbolStrokeWidth":0.6}}
      }}
    ]
   }
  ]
 },
 {
  "spacing":7,
  "vconcat":[
   {"spacing":34,"hconcat":[
    {"width":189,"height":110,"title":{"text":"Profile 1"},
     "encoding":{
      "x":{"field":"x","type":"quantitative","scale":{"domain":[-0.3,13.5],"nice":false,"zero":false},"axis":{"values":[0,2,4,6,8,10,12],"title":"Electron density (10¹¹ m⁻³)"}},
      "y":{"field":"h","type":"quantitative","scale":{"domain":[-35,825],"nice":false,"zero":false},"axis":{"values":[0,200,400,600,800],"title":"Altitude (km)"}},
      "color":{"field":"c","type":"nominal","scale":{"domain":["pm","ps","mi","ms","iri","zero","eis"],"range":["#3cae46","#a8e2a0","#111111","#666666","#3a5cc8","#8fd6e6","#ee3324"]},
       "legend":{"orient":"none","legendX":18,"legendY":317,"title":null,"columns":2,"direction":"vertical","symbolType":"M-1.6,0H1.6","symbolSize":81,"labelFontSize":9,"labelColor":"#222","rowPadding":0.5,"columnPadding":87,"labelOffset":10,"labelLimit":300,
        "labelExpr":"datum.label == 'pm' ? 'Ionosonde prior mean' : datum.label == 'ps' ? 'Ionosonde prior mean +/− 2 * prior sd' : datum.label == 'mi' ? 'MAP ionosonde' : datum.label == 'ms' ? 'MAP ionosonde +/− 2 * posterior sd' : datum.label == 'iri' ? 'MAP IRI' : datum.label == 'zero' ? 'MAP ZERO' : 'EISCAT UHF scan'"}},
      "strokeDash":{"field":"c","type":"nominal","scale":{"domain":["pm","ps","mi","ms","iri","zero","eis"],"range":[[1,0],[1,0],[1,0],[1.5,1.2],[4,2.5],[4,2.5],[1,0]]}},
      "strokeWidth":{"field":"c","type":"nominal","scale":{"domain":["pm","ps","mi","ms","iri","zero","eis"],"range":[1.0,0.8,1.4,0.7,1.0,1.0,1.3]}},
      "detail":{"field":"k","type":"nominal"},
      "order":{"value":null}
     },
     "layer":[
      {"data":{"name":"prior"},"mark":{"type":"line","clip":true}},
      {"data":{"name":"prof"},"transform":[{"filter":"datum.p == 1 && datum.c != 'eis'"}],"mark":{"type":"line","clip":true}},
      {"data":{"name":"prof"},"transform":[{"filter":"datum.p == 1 && datum.c == 'eis'"}],"mark":{"type":"line","clip":true}}
     ]},
    {"width":190,"height":110,"title":{"text":"Profile 2"},
     "encoding":{
      "x":{"field":"x","type":"quantitative","scale":{"domain":[-0.3,13.5],"nice":false,"zero":false},"axis":{"values":[0,2,4,6,8,10,12],"title":"Electron density (10¹¹ m⁻³)"}},
      "y":{"field":"h","type":"quantitative","scale":{"domain":[-35,825],"nice":false,"zero":false},"axis":{"values":[0,200,400,600,800],"title":"Altitude (km)"}},
      "color":{"field":"c","type":"nominal","scale":{"domain":["pm","ps","mi","ms","iri","zero","eis"],"range":["#3cae46","#a8e2a0","#111111","#666666","#3a5cc8","#8fd6e6","#ee3324"]},
       "legend":{"orient":"none","legendX":18,"legendY":317,"title":null,"columns":2,"direction":"vertical","symbolType":"M-1.6,0H1.6","symbolSize":81,"labelFontSize":9,"labelColor":"#222","rowPadding":0.5,"columnPadding":87,"labelOffset":10,"labelLimit":300,
        "labelExpr":"datum.label == 'pm' ? 'Ionosonde prior mean' : datum.label == 'ps' ? 'Ionosonde prior mean +/− 2 * prior sd' : datum.label == 'mi' ? 'MAP ionosonde' : datum.label == 'ms' ? 'MAP ionosonde +/− 2 * posterior sd' : datum.label == 'iri' ? 'MAP IRI' : datum.label == 'zero' ? 'MAP ZERO' : 'EISCAT UHF scan'"}},
      "strokeDash":{"field":"c","type":"nominal","scale":{"domain":["pm","ps","mi","ms","iri","zero","eis"],"range":[[1,0],[1,0],[1,0],[1.5,1.2],[4,2.5],[4,2.5],[1,0]]}},
      "strokeWidth":{"field":"c","type":"nominal","scale":{"domain":["pm","ps","mi","ms","iri","zero","eis"],"range":[1.0,0.8,1.4,0.7,1.0,1.0,1.3]}},
      "detail":{"field":"k","type":"nominal"},
      "order":{"value":null}
     },
     "layer":[
      {"data":{"name":"prior"},"mark":{"type":"line","clip":true}},
      {"data":{"name":"prof"},"transform":[{"filter":"datum.p == 2 && datum.c != 'eis'"}],"mark":{"type":"line","clip":true}},
      {"data":{"name":"prof"},"transform":[{"filter":"datum.p == 2 && datum.c == 'eis'"}],"mark":{"type":"line","clip":true}}
     ]}
   ]},
   {"spacing":34,"hconcat":[
    {"width":189,"height":110,"title":{"text":"Profile 3"},
     "encoding":{
      "x":{"field":"x","type":"quantitative","scale":{"domain":[-0.3,13.5],"nice":false,"zero":false},"axis":{"values":[0,2,4,6,8,10,12],"title":"Electron density (10¹¹ m⁻³)"}},
      "y":{"field":"h","type":"quantitative","scale":{"domain":[-35,825],"nice":false,"zero":false},"axis":{"values":[0,200,400,600,800],"title":"Altitude (km)"}},
      "color":{"field":"c","type":"nominal","scale":{"domain":["pm","ps","mi","ms","iri","zero","eis"],"range":["#3cae46","#a8e2a0","#111111","#666666","#3a5cc8","#8fd6e6","#ee3324"]},
       "legend":{"orient":"none","legendX":18,"legendY":317,"title":null,"columns":2,"direction":"vertical","symbolType":"M-1.6,0H1.6","symbolSize":81,"labelFontSize":9,"labelColor":"#222","rowPadding":0.5,"columnPadding":87,"labelOffset":10,"labelLimit":300,
        "labelExpr":"datum.label == 'pm' ? 'Ionosonde prior mean' : datum.label == 'ps' ? 'Ionosonde prior mean +/− 2 * prior sd' : datum.label == 'mi' ? 'MAP ionosonde' : datum.label == 'ms' ? 'MAP ionosonde +/− 2 * posterior sd' : datum.label == 'iri' ? 'MAP IRI' : datum.label == 'zero' ? 'MAP ZERO' : 'EISCAT UHF scan'"}},
      "strokeDash":{"field":"c","type":"nominal","scale":{"domain":["pm","ps","mi","ms","iri","zero","eis"],"range":[[1,0],[1,0],[1,0],[1.5,1.2],[4,2.5],[4,2.5],[1,0]]}},
      "strokeWidth":{"field":"c","type":"nominal","scale":{"domain":["pm","ps","mi","ms","iri","zero","eis"],"range":[1.0,0.8,1.4,0.7,1.0,1.0,1.3]}},
      "detail":{"field":"k","type":"nominal"},
      "order":{"value":null}
     },
     "layer":[
      {"data":{"name":"prior"},"mark":{"type":"line","clip":true}},
      {"data":{"name":"prof"},"transform":[{"filter":"datum.p == 3 && datum.c != 'eis'"}],"mark":{"type":"line","clip":true}},
      {"data":{"name":"prof"},"transform":[{"filter":"datum.p == 3 && datum.c == 'eis'"}],"mark":{"type":"line","clip":true}}
     ]},
    {"width":190,"height":110,"title":{"text":"Profile 4"},
     "encoding":{
      "x":{"field":"x","type":"quantitative","scale":{"domain":[-0.3,13.5],"nice":false,"zero":false},"axis":{"values":[0,2,4,6,8,10,12],"title":"Electron density (10¹¹ m⁻³)"}},
      "y":{"field":"h","type":"quantitative","scale":{"domain":[-35,825],"nice":false,"zero":false},"axis":{"values":[0,200,400,600,800],"title":"Altitude (km)"}},
      "color":{"field":"c","type":"nominal","scale":{"domain":["pm","ps","mi","ms","iri","zero","eis"],"range":["#3cae46","#a8e2a0","#111111","#666666","#3a5cc8","#8fd6e6","#ee3324"]},
       "legend":{"orient":"none","legendX":18,"legendY":317,"title":null,"columns":2,"direction":"vertical","symbolType":"M-1.6,0H1.6","symbolSize":81,"labelFontSize":9,"labelColor":"#222","rowPadding":0.5,"columnPadding":87,"labelOffset":10,"labelLimit":300,
        "labelExpr":"datum.label == 'pm' ? 'Ionosonde prior mean' : datum.label == 'ps' ? 'Ionosonde prior mean +/− 2 * prior sd' : datum.label == 'mi' ? 'MAP ionosonde' : datum.label == 'ms' ? 'MAP ionosonde +/− 2 * posterior sd' : datum.label == 'iri' ? 'MAP IRI' : datum.label == 'zero' ? 'MAP ZERO' : 'EISCAT UHF scan'"}},
      "strokeDash":{"field":"c","type":"nominal","scale":{"domain":["pm","ps","mi","ms","iri","zero","eis"],"range":[[1,0],[1,0],[1,0],[1.5,1.2],[4,2.5],[4,2.5],[1,0]]}},
      "strokeWidth":{"field":"c","type":"nominal","scale":{"domain":["pm","ps","mi","ms","iri","zero","eis"],"range":[1.0,0.8,1.4,0.7,1.0,1.0,1.3]}},
      "detail":{"field":"k","type":"nominal"},
      "order":{"value":null}
     },
     "layer":[
      {"data":{"name":"prior"},"mark":{"type":"line","clip":true}},
      {"data":{"name":"prof"},"transform":[{"filter":"datum.p == 4 && datum.c != 'eis'"}],"mark":{"type":"line","clip":true}},
      {"data":{"name":"prof"},"transform":[{"filter":"datum.p == 4 && datum.c == 'eis'"}],"mark":{"type":"line","clip":true}}
     ]}
   ]}
  ]
 }
]
}
